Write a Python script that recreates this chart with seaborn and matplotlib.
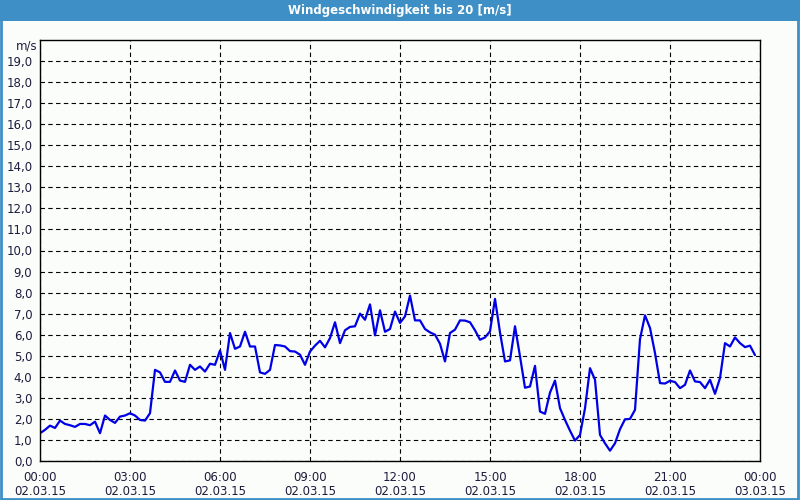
import numpy as np
import pandas as pd
import matplotlib
matplotlib.use("Agg")
import matplotlib.pyplot as plt
import matplotlib.dates as mdates
from matplotlib.ticker import FuncFormatter, MultipleLocator
from matplotlib.patches import Rectangle
import seaborn as sns

# ---- data (10-minute samples, 02.03.15 00:00 .. 23:50) ----
start_time = "2015-03-02 00:00"
interval = "10min"
wind_speed = [
    1.32, 1.48, 1.68, 1.57, 1.92, 1.76, 1.70, 1.62, 1.76, 1.76, 1.70, 1.87,
    1.32, 2.16, 1.95, 1.81, 2.11, 2.16, 2.27, 2.16, 1.95, 1.92, 2.27, 4.33,
    4.21, 3.76, 3.76, 4.30, 3.82, 3.76, 4.57, 4.33, 4.49, 4.25, 4.62, 4.57,
    5.25, 4.33, 6.08, 5.33, 5.44, 6.14, 5.44, 5.44, 4.21, 4.14, 4.33, 5.51,
    5.49, 5.44, 5.22, 5.20, 5.05, 4.57, 5.20, 5.48, 5.71, 5.40, 5.84, 6.59,
    5.60, 6.21, 6.37, 6.40, 7.00, 6.71, 7.44, 5.97, 7.16, 6.14, 6.27, 7.10,
    6.56, 6.87, 7.86, 6.68, 6.68, 6.27, 6.11, 6.00, 5.57, 4.73, 6.08, 6.24,
    6.68, 6.67, 6.59, 6.21, 5.76, 5.87, 6.16, 7.70, 6.11, 4.73, 4.78, 6.40,
    4.97, 3.48, 3.54, 4.52, 2.35, 2.24, 3.25, 3.82, 2.51, 1.95, 1.44, 0.97,
    1.24, 2.50, 4.41, 3.86, 1.24, 0.84, 0.49, 0.84, 1.51, 1.98, 2.00, 2.43,
    5.79, 6.92, 6.32, 5.13, 3.70, 3.68, 3.81, 3.75, 3.46, 3.62, 4.30, 3.78,
    3.75, 3.46, 3.86, 3.19, 3.94, 5.60, 5.44, 5.87, 5.60, 5.41, 5.48, 5.03,
]
y_ticks = list(range(0, 20))
title = "Windgeschwindigkeit bis 20 [m/s]"
unit_label = "m/s"

times = pd.date_range(start_time, periods=len(wind_speed), freq=interval)
df = pd.DataFrame({"time": times, "speed": wind_speed})

# ---- styling ----
sns.set_style("white")
plt.rcParams["font.family"] = ["DejaVu Sans"]
text_color = "#1c1c3c"
bar_blue = "#3d8fc6"
bg = "#fbfdfb"

fig = plt.figure(figsize=(8, 5), dpi=100, facecolor=bg)
ax = fig.add_axes([40 / 800, 39 / 500, 720 / 800, 421 / 500])
ax.set_facecolor(bg)

sns.lineplot(data=df, x="time", y="speed", ax=ax, color="#0000e6", linewidth=1.6)

ax.set_xlim(pd.Timestamp("2015-03-02 00:00"), pd.Timestamp("2015-03-03 00:00"))
ax.set_ylim(0, 20)
ax.set_yticks(y_ticks)
ax.yaxis.set_major_formatter(FuncFormatter(lambda v, p: f"{v:.1f}".replace(".", ",")))
ax.xaxis.set_major_locator(mdates.HourLocator(byhour=range(0, 24, 3)))
ax.xaxis.set_minor_locator(mdates.HourLocator())
ax.xaxis.set_major_formatter(mdates.DateFormatter("%H:%M\n%d.%m.%y"))

ax.set_xlabel("")
ax.set_ylabel("")
ax.tick_params(axis="both", which="both", direction="out", length=3.5, width=0.8,
               color="black", labelsize=8.5, labelcolor=text_color, pad=2)
ax.tick_params(axis="x", which="major", pad=4)
fig.canvas.draw()
for t in ax.xaxis.get_major_ticks():
    t.label1.set_linespacing(1.05)

ax.grid(True, which="major", color="black", linestyle=(0, (4, 3)), linewidth=0.8)
ax.set_axisbelow(True)
for s in ax.spines.values():
    s.set_visible(True)
    s.set_color("black")
    s.set_linewidth(1.0)

ax.text(-0.004, 0.985, unit_label, transform=ax.transAxes, ha="right", va="center",
        fontsize=8.5, color=text_color)

# title bar and window border
fig.patches.append(Rectangle((0, 1 - 21 / 500), 1, 21 / 500, transform=fig.transFigure,
                             facecolor=bar_blue, edgecolor="none", zorder=0))
fig.patches.append(Rectangle((0.001, 0.002), 0.997, 0.996, transform=fig.transFigure,
                             facecolor="none", edgecolor=bar_blue, linewidth=2, zorder=5))
fig.text(0.5, 1 - 10.5 / 500, title, ha="center", va="center", color="white",
         fontsize=8.5, fontweight="bold")

fig.savefig("out.png", dpi=100, facecolor=bg)
